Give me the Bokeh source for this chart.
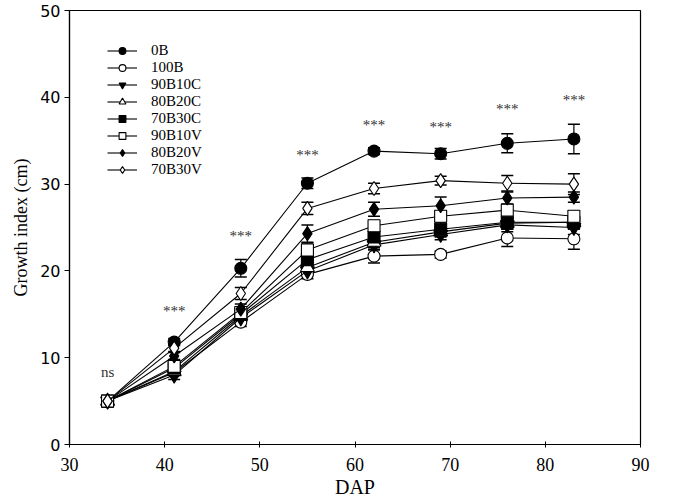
from bokeh.plotting import figure
from bokeh.models import ColumnDataSource, Whisker, TeeHead, Legend, LegendItem, FixedTicker, Range1d
from bokeh.core.properties import value
from bokeh.embed import file_html
from bokeh.resources import INLINE

dap = [34, 41, 48, 55, 62, 69, 76, 83]

s_0B = [5.0, 11.8, 20.3, 30.1, 33.8, 33.5, 34.7, 35.2]
e_0B = [0.2, 0.4, 1.0, 0.6, 0.4, 0.6, 1.1, 1.7]
s_100B = [5.0, 8.3, 14.1, 19.6, 21.7, 21.9, 23.8, 23.7]
e_100B = [0.2, 0.3, 0.5, 0.5, 0.8, 0.4, 1.0, 1.2]
s_90B10C = [5.0, 8.0, 14.6, 20.0, 23.0, 24.2, 25.3, 25.0]
e_90B10C = [0.2, 0.5, 0.5, 0.5, 0.6, 0.6, 0.8, 0.8]
s_80B20C = [5.0, 8.4, 14.8, 20.4, 23.3, 24.5, 25.5, 25.6]
e_80B20C = [0.2, 0.4, 0.5, 0.5, 0.6, 0.6, 0.7, 0.7]
s_70B30C = [5.0, 8.8, 15.0, 21.3, 23.9, 24.8, 25.6, 25.6]
e_70B30C = [0.2, 0.4, 0.6, 0.8, 0.6, 0.8, 0.6, 0.8]
s_90B10V = [5.0, 9.0, 15.2, 22.4, 25.2, 26.3, 27.0, 26.3]
e_90B10V = [0.2, 0.4, 0.6, 0.8, 0.6, 0.6, 0.6, 0.6]
s_80B20V = [5.0, 10.2, 15.6, 24.3, 27.1, 27.5, 28.4, 28.5]
e_80B20V = [0.2, 0.4, 0.6, 1.0, 0.8, 1.0, 0.7, 0.6]
s_70B30V = [5.0, 11.1, 17.4, 27.2, 29.5, 30.4, 30.1, 30.0]
e_70B30V = [0.2, 0.4, 0.7, 0.7, 0.6, 0.5, 0.9, 1.2]

series = [
    ("0B", s_0B, e_0B, "circle", "black"),
    ("100B", s_100B, e_100B, "circle", "white"),
    ("90B10C", s_90B10C, e_90B10C, "inverted_triangle", "black"),
    ("80B20C", s_80B20C, e_80B20C, "triangle", "white"),
    ("70B30C", s_70B30C, e_70B30C, "square", "black"),
    ("90B10V", s_90B10V, e_90B10V, "square", "white"),
    ("80B20V", s_80B20V, e_80B20V, "diamond", "black"),
    ("70B30V", s_70B30V, e_70B30V, "diamond", "white"),
]

sig_x = [34, 41, 48, 55, 62, 69, 76, 83]
sig_y = [8.4, 15.4, 24.0, 33.4, 36.8, 36.6, 38.6, 39.7]
sig_labels = ["ns", "***", "***", "***", "***", "***", "***", "***"]

x_ticks = [30, 40, 50, 60, 70, 80, 90]
y_ticks = [0, 10, 20, 30, 40, 50]

SERIF = "Liberation Serif"
SANS = "DejaVu Sans"

p = figure(width=668, height=500, output_backend="svg", toolbar_location=None,
           x_range=Range1d(30, 90), y_range=Range1d(0, 50),
           min_border_top=10, min_border_right=28, min_border_left=69, min_border_bottom=10)
p.xgrid.visible = False
p.ygrid.visible = False
p.outline_line_color = "black"
p.outline_line_width = 1.2
p.background_fill_color = "white"
p.border_fill_color = "white"

p.xaxis.ticker = FixedTicker(ticks=x_ticks)
p.yaxis.ticker = FixedTicker(ticks=y_ticks)
p.xaxis.minor_tick_line_color = None
p.yaxis.minor_tick_line_color = None
p.xaxis.major_tick_in = 3
p.xaxis.major_tick_out = 3
p.yaxis.major_tick_in = 0
p.yaxis.major_tick_out = 5
p.axis.axis_line_color = "black"
p.axis.axis_line_width = 1.2
p.axis.major_tick_line_color = "black"
p.xaxis.axis_label = "DAP"
p.yaxis.axis_label = "Growth index (cm)"
p.axis.axis_label_text_color = "black"
p.axis.major_label_text_color = "black"
p.xaxis.axis_label_text_font = SERIF
p.xaxis.axis_label_text_font_style = "normal"
p.xaxis.axis_label_text_font_size = "20px"
p.xaxis.axis_label_standoff = 2
p.yaxis.axis_label_text_font = SERIF
p.yaxis.axis_label_text_font_style = "normal"
p.yaxis.axis_label_text_font_size = "18px"
p.yaxis.axis_label_standoff = 6
p.xaxis.major_label_text_font = SERIF
p.xaxis.major_label_text_font_size = "18px"
p.yaxis.major_label_text_font = SANS
p.yaxis.major_label_text_font_size = "16px"
p.xaxis.major_label_standoff = 10
p.yaxis.major_label_standoff = 4

items = []
for name, ys, es, marker, fill in series:
    lower = [y - e for y, e in zip(ys, es)]
    upper = [y + e for y, e in zip(ys, es)]
    src = ColumnDataSource(dict(x=dap, y=ys, lower=lower, upper=upper))
    w = Whisker(source=src, base="x", lower="lower", upper="upper", dimension="height",
                line_color="black", line_width=1.2,
                lower_head=TeeHead(size=12, line_color="black", line_width=1.5),
                upper_head=TeeHead(size=12, line_color="black", line_width=1.5))
    p.add_layout(w)
    ln = p.line("x", "y", source=src, line_color="black", line_width=1.1)
    sz = 12 if marker in ("circle", "square") else 14
    sc = p.scatter("x", "y", source=src, marker=marker, size=sz, fill_color=fill,
                   line_color="black", line_width=1.1)
    items.append(LegendItem(label=name, renderers=[ln, sc]))

p.text(x=sig_x, y=sig_y, text=sig_labels, text_font=value(SERIF), text_font_size="15px",
       text_align="center", text_baseline="middle", text_color="#333333")

legend = Legend(items=items, location="top_left", border_line_color=None,
                background_fill_alpha=0, label_text_font=SERIF, label_text_font_size="15px",
                label_text_color="black", label_height=17,
                glyph_width=30, glyph_height=17, spacing=0, label_standoff=14,
                padding=0, margin=0)
legend.location = (38, 266)
p.add_layout(legend)

open("out.html", "w").write(file_html(p, INLINE))
